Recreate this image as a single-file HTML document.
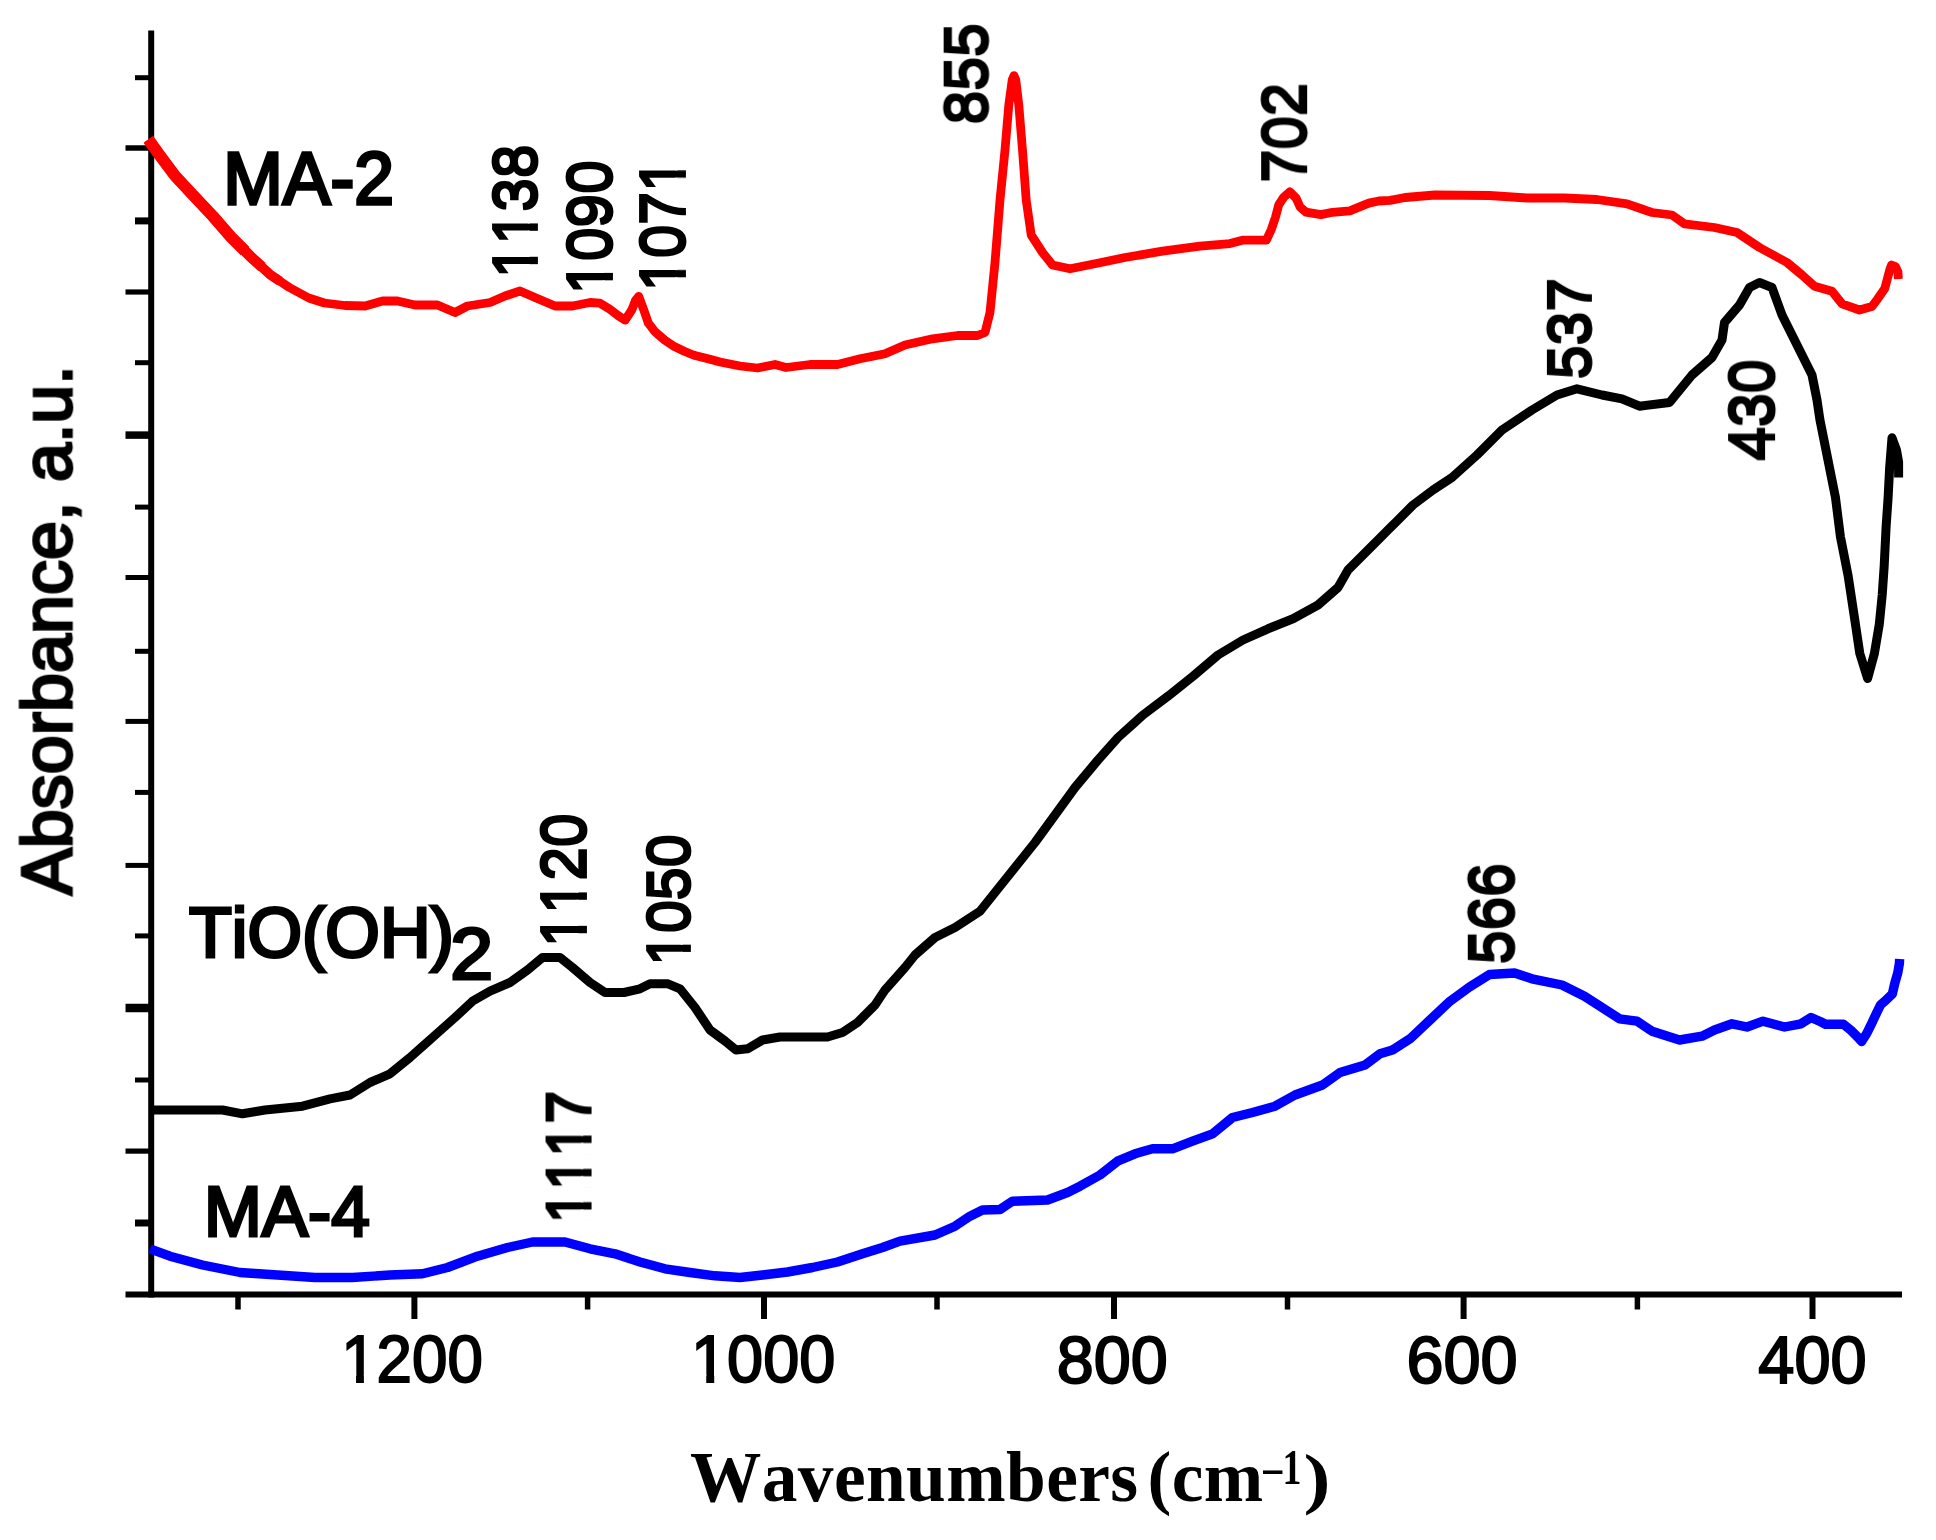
<!DOCTYPE html>
<html lang="en"><head><meta charset="utf-8"><title>FTIR spectra</title>
<style>html,body{margin:0;padding:0;background:#fff}svg{display:block}text{fill:#000;white-space:pre;font-kerning:none}</style></head><body>
<svg width="1936" height="1540" viewBox="0 0 1936 1540">
<rect width="1936" height="1540" fill="#fff"/>
<defs><filter id="bl" filterUnits="userSpaceOnUse" x="0" y="0" width="1936" height="1540"><feGaussianBlur stdDeviation="0.75"/></filter><filter id="hx" filterUnits="userSpaceOnUse" x="0" y="0" width="1936" height="1540"><feMorphology operator="dilate" radius="1 0"/></filter></defs>
<g filter="url(#bl)">
<g stroke="#000" fill="none">
<line x1="151.2" y1="30.5" x2="151.2" y2="1297.5" stroke-width="6"/>
<line x1="125.5" y1="1294.5" x2="1902" y2="1294.5" stroke-width="6"/>
<line x1="125.5" y1="148" x2="151.2" y2="148" stroke-width="5.5"/>
<line x1="125.5" y1="292" x2="151.2" y2="292" stroke-width="5.2"/>
<line x1="125.5" y1="435.1" x2="151.2" y2="435.1" stroke-width="7.5"/>
<line x1="125.5" y1="577.5" x2="151.2" y2="577.5" stroke-width="5"/>
<line x1="125.5" y1="721.4" x2="151.2" y2="721.4" stroke-width="5"/>
<line x1="125.5" y1="865.4" x2="151.2" y2="865.4" stroke-width="5"/>
<line x1="125.5" y1="1008" x2="151.2" y2="1008" stroke-width="8.5"/>
<line x1="125.5" y1="1151.1" x2="151.2" y2="1151.1" stroke-width="5.2"/>
<line x1="135" y1="77.7" x2="151.2" y2="77.7" stroke-width="5"/>
<line x1="135" y1="220.9" x2="151.2" y2="220.9" stroke-width="7"/>
<line x1="135" y1="362.7" x2="151.2" y2="362.7" stroke-width="5"/>
<line x1="135" y1="507.1" x2="151.2" y2="507.1" stroke-width="5"/>
<line x1="135" y1="651.3" x2="151.2" y2="651.3" stroke-width="5"/>
<line x1="135" y1="792.4" x2="151.2" y2="792.4" stroke-width="5"/>
<line x1="135" y1="935.9" x2="151.2" y2="935.9" stroke-width="5"/>
<line x1="135" y1="1080" x2="151.2" y2="1080" stroke-width="5"/>
<line x1="135" y1="1223" x2="151.2" y2="1223" stroke-width="7"/>
<line x1="414.4" y1="1294.5" x2="414.4" y2="1319" stroke-width="6"/>
<line x1="764" y1="1294.5" x2="764" y2="1319" stroke-width="6"/>
<line x1="1114" y1="1294.5" x2="1114" y2="1319" stroke-width="6"/>
<line x1="1463.6" y1="1294.5" x2="1463.6" y2="1319" stroke-width="6"/>
<line x1="1812.5" y1="1294.5" x2="1812.5" y2="1319" stroke-width="6"/>
<line x1="238" y1="1294.5" x2="238" y2="1309.5" stroke-width="5.5"/>
<line x1="587.6" y1="1294.5" x2="587.6" y2="1309.5" stroke-width="5.5"/>
<line x1="937" y1="1294.5" x2="937" y2="1309.5" stroke-width="5.5"/>
<line x1="1287.5" y1="1294.5" x2="1287.5" y2="1309.5" stroke-width="5.5"/>
<line x1="1637.4" y1="1294.5" x2="1637.4" y2="1309.5" stroke-width="5.5"/>
</g>
<polyline points="150.0,1248.8 170.0,1256.2 202.5,1265.0 240.0,1272.5 277.5,1275.0 315.0,1277.5 352.5,1277.5 390.0,1275.0 422.5,1273.8 447.5,1267.5 477.5,1256.2 507.5,1247.5 532.5,1242.0 565.0,1242.0 590.0,1248.8 615.0,1253.8 640.0,1262.0 665.0,1268.8 690.0,1272.5 715.0,1275.8 740.0,1277.5 762.5,1275.0 787.5,1272.0 812.5,1267.5 837.5,1262.0 862.5,1253.8 882.5,1247.5 900.0,1241.2 935.0,1235.0 955.0,1226.2 970.0,1216.2 982.5,1210.0 1000.0,1209.5 1012.5,1201.2 1047.5,1200.0 1067.5,1192.5 1080.0,1186.2 1100.0,1175.0 1117.5,1161.2 1135.0,1153.8 1152.5,1148.8 1172.5,1148.8 1192.5,1141.2 1212.5,1133.8 1232.5,1117.5 1252.5,1112.5 1275.0,1106.2 1295.0,1095.0 1322.5,1085.0 1340.0,1072.5 1365.0,1065.0 1380.0,1053.8 1392.5,1050.0 1410.0,1038.8 1430.0,1020.0 1450.0,1001.2 1469.5,987.0 1489.5,974.5 1514.5,973.0 1532.0,978.8 1562.0,985.0 1584.5,996.2 1602.0,1007.5 1619.5,1018.8 1637.0,1021.2 1652.0,1031.2 1679.5,1040.0 1702.0,1036.2 1714.5,1030.0 1732.0,1023.8 1747.0,1027.0 1763.0,1021.2 1784.5,1027.0 1801.0,1023.8 1811.0,1017.5 1820.7,1021.8 1825.4,1024.2 1843.3,1024.2 1851.0,1030.4 1858.0,1037.4 1861.6,1041.5 1866.7,1033.5 1872.1,1022.6 1876.8,1012.5 1880.7,1004.7 1886.1,1000.0 1892.4,993.8 1894.7,983.6 1897.8,972.7 1899.4,963.4 1899.6,959.0" fill="none" stroke="#0000ff" stroke-width="9.4" stroke-linejoin="round" stroke-linecap="butt"/>
<polyline points="148.4,139.5 159.5,155.0 175.0,175.8 192.0,194.0 212.7,216.0 231.0,237.0 250.4,256.4 270.0,274.5 289.4,287.5 308.8,298.0 324.4,303.0 345.0,305.5 365.0,306.0 382.5,301.0 397.5,301.0 415.0,305.0 437.5,305.0 455.0,312.5 467.5,306.0 490.0,302.5 505.0,296.0 520.0,291.0 535.0,297.5 555.0,306.0 572.5,306.0 590.0,302.5 600.0,303.2 609.5,309.0 618.0,315.5 625.0,320.2 631.6,310.3 635.5,300.5 638.7,296.3 643.9,310.3 648.4,323.2 654.9,331.7 664.7,340.1 674.4,346.6 684.2,351.2 694.0,355.2 710.0,359.2 720.0,362.0 740.0,366.0 757.5,368.0 775.0,364.5 786.0,367.5 810.0,364.5 837.5,364.5 860.0,358.8 885.0,353.8 905.0,345.0 932.5,338.8 957.5,335.5 977.5,335.5 985.0,332.5 990.0,312.5 995.0,262.5 1000.0,200.0 1005.0,150.0 1008.8,105.0 1012.2,80.0 1014.0,75.6 1015.8,80.0 1018.8,105.0 1022.5,150.0 1026.2,200.0 1031.2,235.0 1042.5,252.5 1052.5,265.0 1070.0,268.8 1095.0,263.8 1125.0,257.5 1162.5,251.2 1200.0,246.2 1230.0,243.6 1242.4,240.2 1266.4,240.2 1271.3,229.5 1275.5,217.1 1278.8,204.7 1283.7,197.3 1289.9,191.8 1296.1,198.1 1300.2,207.2 1306.0,212.1 1320.9,214.6 1332.5,212.3 1349.8,210.9 1358.9,207.2 1368.8,203.1 1378.8,201.0 1390.0,200.4 1405.0,197.5 1435.0,195.0 1489.5,195.5 1527.0,198.0 1564.5,198.0 1597.0,199.5 1627.0,203.8 1652.0,212.5 1672.0,215.0 1684.5,223.8 1714.5,227.5 1737.0,232.5 1759.5,247.5 1787.0,262.5 1802.0,275.0 1814.5,286.2 1832.0,291.2 1842.0,303.8 1859.5,310.0 1871.8,306.6 1877.7,298.8 1884.8,288.4 1887.4,278.7 1890.0,269.0 1891.5,265.0 1895.5,266.5 1898.0,272.0 1898.3,279.0" fill="none" stroke="#ff0000" stroke-width="8.8" stroke-linejoin="round" stroke-linecap="butt"/>
<polyline points="148.4,139.5 159.5,155.0 175.0,175.8 192.0,194.0 212.7,216.0 231.0,237.0 245.0,251.0" fill="none" stroke="#ff0000" stroke-width="11.8" stroke-linejoin="round" stroke-linecap="butt"/>
<polyline points="148.4,139.5 159.5,155.0 175.0,175.8 192.0,194.0 212.7,216.0 231.0,237.0 250.4,256.4 262.0,267.0" fill="none" stroke="#ff0000" stroke-width="10.8" stroke-linejoin="round" stroke-linecap="butt"/>
<polyline points="148.4,139.5 159.5,155.0 175.0,175.8 192.0,194.0 212.7,216.0 231.0,237.0 250.4,256.4 270.0,274.5 280.0,281.3" fill="none" stroke="#ff0000" stroke-width="9.8" stroke-linejoin="round" stroke-linecap="butt"/>
<polyline points="152.5,1110.0 222.5,1110.0 242.5,1113.8 265.0,1110.0 302.5,1106.2 330.0,1098.8 350.0,1095.0 370.0,1082.5 390.0,1073.8 410.0,1057.5 432.5,1037.5 455.0,1017.5 472.5,1001.2 490.0,991.2 510.0,982.5 527.5,970.0 542.5,957.5 560.0,957.5 572.5,967.5 590.0,982.5 605.0,992.5 624.0,992.5 640.0,988.8 650.0,983.8 668.0,983.8 680.0,988.8 695.0,1007.5 710.0,1030.0 725.0,1041.0 736.0,1050.0 747.5,1048.8 762.5,1040.0 780.0,1037.0 827.5,1037.0 842.5,1032.5 857.5,1022.5 875.0,1005.0 885.0,990.0 905.0,967.5 915.0,955.0 935.0,937.5 955.0,927.5 980.0,911.2 995.0,892.5 1015.0,867.5 1035.0,842.5 1055.0,815.0 1075.0,787.5 1098.0,760.0 1118.0,737.5 1143.0,715.0 1168.0,696.2 1193.0,676.2 1218.0,655.0 1243.0,640.0 1268.0,628.8 1293.0,618.8 1318.0,605.0 1338.0,587.5 1348.0,570.0 1368.0,550.0 1393.0,525.0 1413.0,505.0 1433.0,490.0 1452.0,477.5 1477.0,455.0 1502.0,430.0 1532.0,410.0 1557.0,395.0 1577.0,388.8 1602.0,395.0 1622.0,398.8 1639.5,406.2 1669.5,402.5 1692.0,375.0 1712.0,357.5 1722.0,340.0 1724.5,322.5 1739.5,305.0 1749.5,287.5 1759.5,282.5 1772.0,287.5 1782.0,315.0 1797.0,345.0 1812.0,375.0 1817.0,400.0 1819.9,419.7 1827.7,458.7 1835.5,497.7 1840.4,536.6 1848.1,575.6 1854.0,614.6 1859.8,653.5 1867.6,678.5 1874.4,653.5 1879.3,624.3 1882.2,595.1 1884.2,565.9 1886.1,526.9 1888.1,497.7 1889.6,468.4 1892.0,437.8 1896.5,450.0 1898.6,462.0 1898.6,477.5" fill="none" stroke="#000" stroke-width="9.0" stroke-linejoin="round" stroke-linecap="butt"/>
<g filter="url(#hx)">
<text transform="translate(535.87,278.20) rotate(-90) scale(0.3000,0.3068)" style="font-family:'Liberation Sans',sans-serif;font-size:200px" stroke="#000" stroke-width="6" stroke-linejoin="miter" stroke-miterlimit="2.5">1138</text>
<text transform="translate(611.22,294.42) rotate(-90) scale(0.3014,0.3162)" style="font-family:'Liberation Sans',sans-serif;font-size:200px" stroke="#000" stroke-width="6" stroke-linejoin="miter" stroke-miterlimit="2.5">1090</text>
<text transform="translate(683.72,291.28) rotate(-90) scale(0.2985,0.3162)" style="font-family:'Liberation Sans',sans-serif;font-size:200px" stroke="#000" stroke-width="6" stroke-linejoin="miter" stroke-miterlimit="2.5">1071</text>
<text transform="translate(986.26,124.32) rotate(-90) scale(0.3028,0.2990)" style="font-family:'Liberation Sans',sans-serif;font-size:200px" stroke="#000" stroke-width="6" stroke-linejoin="miter" stroke-miterlimit="2.5">855</text>
<text transform="translate(1304.96,182.59) rotate(-90) scale(0.2984,0.3074)" style="font-family:'Liberation Sans',sans-serif;font-size:200px" stroke="#000" stroke-width="6" stroke-linejoin="miter" stroke-miterlimit="2.5">702</text>
<text transform="translate(1589.51,379.01) rotate(-90) scale(0.3028,0.2990)" style="font-family:'Liberation Sans',sans-serif;font-size:200px" stroke="#000" stroke-width="6" stroke-linejoin="miter" stroke-miterlimit="2.5">537</text>
<text transform="translate(1773.17,460.61) rotate(-90) scale(0.3028,0.3159)" style="font-family:'Liberation Sans',sans-serif;font-size:200px" stroke="#000" stroke-width="6" stroke-linejoin="miter" stroke-miterlimit="2.5">430</text>
<text transform="translate(584.92,947.31) rotate(-90) scale(0.3007,0.3159)" style="font-family:'Liberation Sans',sans-serif;font-size:200px" stroke="#000" stroke-width="6" stroke-linejoin="miter" stroke-miterlimit="2.5">1120</text>
<text transform="translate(688.51,965.72) rotate(-90) scale(0.2948,0.2973)" style="font-family:'Liberation Sans',sans-serif;font-size:200px" stroke="#000" stroke-width="6" stroke-linejoin="miter" stroke-miterlimit="2.5">1050</text>
<text transform="translate(589.33,1223.54) rotate(-90) scale(0.2992,0.3073)" style="font-family:'Liberation Sans',sans-serif;font-size:200px" stroke="#000" stroke-width="6" stroke-linejoin="miter" stroke-miterlimit="2.5">1117</text>
<text transform="translate(1513.17,964.01) rotate(-90) scale(0.3019,0.3159)" style="font-family:'Liberation Sans',sans-serif;font-size:200px" stroke="#000" stroke-width="6" stroke-linejoin="miter" stroke-miterlimit="2.5">566</text>
</g>
<text transform="translate(341.16,1382.33) scale(0.3184,0.3345)" style="font-family:'Liberation Sans',sans-serif;font-size:200px" stroke="#000" stroke-width="6" stroke-linejoin="miter" stroke-miterlimit="2.5">1200</text>
<text transform="translate(691.06,1382.33) scale(0.3243,0.3345)" style="font-family:'Liberation Sans',sans-serif;font-size:200px" stroke="#000" stroke-width="6" stroke-linejoin="miter" stroke-miterlimit="2.5">1000</text>
<text transform="translate(1056.75,1382.81) scale(0.3328,0.3378)" style="font-family:'Liberation Sans',sans-serif;font-size:200px" stroke="#000" stroke-width="6" stroke-linejoin="miter" stroke-miterlimit="2.5">800</text>
<text transform="translate(1406.42,1382.81) scale(0.3331,0.3378)" style="font-family:'Liberation Sans',sans-serif;font-size:200px" stroke="#000" stroke-width="6" stroke-linejoin="miter" stroke-miterlimit="2.5">600</text>
<text transform="translate(1758.35,1382.81) scale(0.3242,0.3378)" style="font-family:'Liberation Sans',sans-serif;font-size:200px" stroke="#000" stroke-width="6" stroke-linejoin="miter" stroke-miterlimit="2.5">400</text>
<text transform="translate(223.21,204.43) scale(0.3576,0.3735)" style="font-family:'Liberation Sans',sans-serif;font-size:200px" stroke="#000" stroke-width="9" stroke-linejoin="miter" stroke-miterlimit="2.5">MA-2</text>
<text transform="translate(204.04,1235.83) scale(0.3470,0.3537)" style="font-family:'Liberation Sans',sans-serif;font-size:200px" stroke="#000" stroke-width="9" stroke-linejoin="miter" stroke-miterlimit="2.5">MA-4</text>
<text transform="translate(71.29,894.95) rotate(-90) scale(0.3504,0.3510)" style="font-family:'Liberation Sans',sans-serif;font-size:200px" stroke="#000" stroke-width="8" stroke-linejoin="miter" stroke-miterlimit="2.5">Absorbance, a.u.</text>
<text transform="translate(189.00,957.36) scale(0.3507,0.3486)" style="font-family:'Liberation Sans',sans-serif;font-size:200px" stroke="#000" stroke-width="9" stroke-linejoin="miter" stroke-miterlimit="2.5">TiO(OH)<tspan x="744.7" y="60.8" font-size="207.4" textLength="122.1" lengthAdjust="spacingAndGlyphs">2</tspan></text>
<text transform="translate(689.93,1500.64) scale(0.3567,0.3549)" style="font-family:'Liberation Serif',serif;font-weight:bold;letter-spacing:1.2px;word-spacing:-26px;font-size:200px">Wavenumbers (cm<tspan x="1607.3" y="-48.3" font-size="139.8" textLength="108.1" lengthAdjust="spacingAndGlyphs">–1</tspan><tspan x="1720.4" y="1.5" font-size="192.5" textLength="77.2" lengthAdjust="spacingAndGlyphs">)</tspan></text>
<g fill="#fff">
<g transform="translate(341.16,1382.33) scale(0.3184,0.3345)"><rect x="7.2" y="-22.5" width="39.6" height="30.0"/><rect x="71.4" y="-22.5" width="38.0" height="30.0"/></g>
<g transform="translate(691.06,1382.33) scale(0.3243,0.3345)"><rect x="7.2" y="-22.5" width="39.6" height="30.0"/><rect x="71.4" y="-22.5" width="38.0" height="30.0"/></g>
<g transform="translate(535.87,278.20) rotate(-90) scale(0.3000,0.3068)"><rect x="7.2" y="-26.1" width="39.6" height="37.2"/><rect x="71.4" y="-26.1" width="38.0" height="37.2"/><rect x="118.4" y="-26.1" width="39.6" height="37.2"/><rect x="182.6" y="-26.1" width="38.0" height="37.2"/></g>
<g transform="translate(611.22,294.42) rotate(-90) scale(0.3014,0.3162)"><rect x="7.2" y="-26.1" width="39.6" height="37.2"/><rect x="71.4" y="-26.1" width="38.0" height="37.2"/></g>
<g transform="translate(683.72,291.28) rotate(-90) scale(0.2985,0.3162)"><rect x="7.2" y="-26.1" width="39.6" height="37.2"/><rect x="71.4" y="-26.1" width="38.0" height="37.2"/><rect x="340.9" y="-26.1" width="39.6" height="37.2"/><rect x="405.1" y="-26.1" width="38.0" height="37.2"/></g>
<g transform="translate(584.92,947.31) rotate(-90) scale(0.3007,0.3159)"><rect x="7.2" y="-26.1" width="39.6" height="37.2"/><rect x="71.4" y="-26.1" width="38.0" height="37.2"/><rect x="118.4" y="-26.1" width="39.6" height="37.2"/><rect x="182.6" y="-26.1" width="38.0" height="37.2"/></g>
<g transform="translate(688.51,965.72) rotate(-90) scale(0.2948,0.2973)"><rect x="7.2" y="-26.1" width="39.6" height="37.2"/><rect x="71.4" y="-26.1" width="38.0" height="37.2"/></g>
<g transform="translate(589.33,1223.54) rotate(-90) scale(0.2992,0.3073)"><rect x="7.2" y="-26.1" width="39.6" height="37.2"/><rect x="71.4" y="-26.1" width="38.0" height="37.2"/><rect x="118.4" y="-26.1" width="39.6" height="37.2"/><rect x="182.6" y="-26.1" width="38.0" height="37.2"/><rect x="229.7" y="-26.1" width="39.6" height="37.2"/><rect x="293.9" y="-26.1" width="38.0" height="37.2"/></g>
</g>
</g></svg></body></html>
